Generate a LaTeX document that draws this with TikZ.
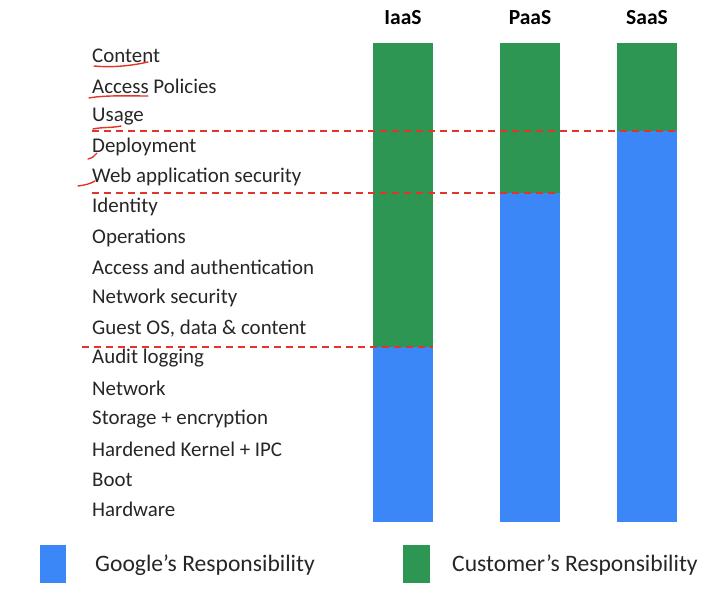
\documentclass[tikz,border=0pt]{standalone}
\usepackage{fontspec}
\setmainfont{Carlito}
\definecolor{gblue}{RGB}{59,135,248}
\definecolor{cgreen}{RGB}{44,150,82}
\definecolor{redmark}{RGB}{226,52,40}
\tikzset{
  layer/.style={anchor=west, inner sep=0pt, font=\fontsize{20.9}{23}\selectfont, text=black!85},
  model/.style={font=\bfseries\fontsize{21.5}{24}\selectfont},
  legendtext/.style={anchor=west, inner sep=0pt, font=\fontsize{23.6}{26}\selectfont, text=black!85},
  split/.style={draw=redmark, line width=1.4pt, dash pattern=on 7pt off 5pt},
  ink/.style={draw=redmark, line width=1.4pt, line cap=round},
}
\begin{document}
\begin{tikzpicture}[x=1pt,y=-1pt]
\useasboundingbox (0,0) rectangle (725,593);

% responsibility columns
\fill[cgreen] (373,43) rectangle (433,347);
\fill[gblue]  (373,347) rectangle (433,522);
\fill[cgreen] (500,43) rectangle (560,193);
\fill[gblue]  (500,193) rectangle (560,522);
\fill[cgreen] (617,43) rectangle (677,131);
\fill[gblue]  (617,131) rectangle (677,522);

\node[model] (iaas) at (403,18) {IaaS};
\node[model] (paas) at (530,18) {PaaS};
\node[model] (saas) at (647,18) {SaaS};

% security layers
\foreach \t [count=\i] in {Content, Access Policies, Usage, Deployment,
  Web application security, Identity, Operations, Access and authentication,
  Network security, {Guest OS, data \& content}, Audit logging, Network,
  Storage + encryption, Hardened Kernel + IPC, Boot, Hardware}
  \node[layer] (l\i) at (92,{56+30.25*(\i-1)}) {\t};

% boundaries between customer and provider
\coordinate (d1a) at (92,131);  \coordinate (d1b) at (677,131);
\coordinate (d2a) at (92,193);  \coordinate (d2b) at (560,193);
\coordinate (d3a) at (82,347);  \coordinate (d3b) at (433,347);
\draw[split] (d1a) -- (d1b);
\draw[split] (d2a) -- (d2b);
\draw[split] (d3a) -- (d3b);

% hand-drawn marks
\draw[ink] (94,66) .. controls (115,68) and (135,65) .. (148,62);
\draw[ink] (89,98) .. controls (105,95) and (130,96) .. (148,96);
\draw[ink] (93,129) .. controls (102,127) and (112,128) .. (121,126);
\draw[ink] (88,159) .. controls (92,158) and (95,156) .. (97,153);
\draw[ink] (78,186) .. controls (85,185) and (90,184) .. (95,181);

% legend
\fill[gblue]  (40,545) rectangle (66,583);
\node[legendtext] (lg) at (95,565) {Google’s Responsibility};
\fill[cgreen] (403,545) rectangle (430,583);
\node[legendtext] (lc) at (452,565) {Customer’s Responsibility};
\end{tikzpicture}
\end{document}
